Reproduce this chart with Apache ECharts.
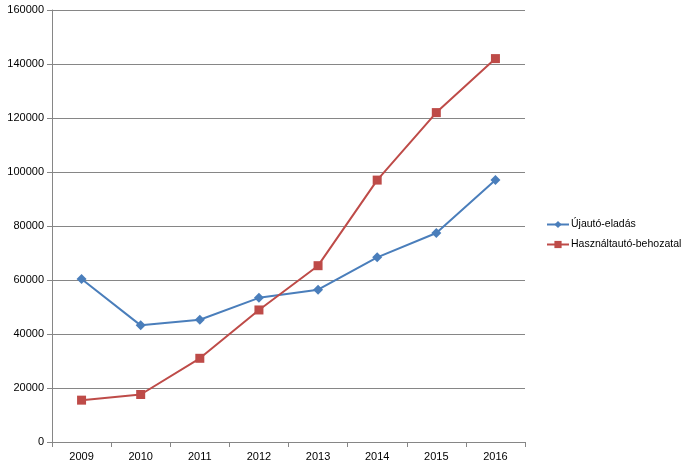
<!DOCTYPE html>
<html><head><meta charset="utf-8">
<script src="https://cdn.jsdelivr.net/npm/echarts@6/dist/echarts.min.js"></script>
<style>html,body{margin:0;padding:0;background:#fff}#c{width:696px;height:464px}</style>
</head><body><div id="c"></div>
<script>
const categories = ['2009','2010','2011','2012','2013','2014','2015','2016'];
const newCarSales = [60400, 43200, 45300, 53400, 56400, 68400, 77400, 97000];
const usedCarImports = [15500, 17600, 31000, 48900, 65300, 97000, 122000, 142000];
const seriesNames = ['Újautó-eladás', 'Használtautó-behozatal'];

const chart = echarts.init(document.getElementById('c'));
const font = 'Liberation Sans, Arial, sans-serif';
chart.setOption({
  animation: false,
  grid: {left: 52, right: 171, top: 10, bottom: 22, containLabel: false},
  legend: {
    orient: 'vertical', left: 541, top: 214, itemGap: 9, itemWidth: 22, itemHeight: 9,
    textStyle: {fontFamily: font, fontSize: 10.5, color: '#000', padding: [0,0,0,-3]},
    data: seriesNames
  },
  xAxis: {
    type: 'category', data: categories, boundaryGap: true,
    axisLine: {lineStyle: {color: '#868686', width: 1}},
    axisTick: {show: true, inside: false, length: 5, lineStyle: {color: '#868686'}},
    axisLabel: {fontFamily: font, fontSize: 11, color: '#000', margin: 9}
  },
  yAxis: {
    type: 'value', min: 0, max: 160000, interval: 20000,
    axisLine: {show: true, lineStyle: {color: '#868686', width: 1}},
    axisTick: {show: true, inside: false, length: 5, lineStyle: {color: '#868686'}},
    axisLabel: {fontFamily: font, fontSize: 11, color: '#000', margin: 8, formatter: v => String(v)},
    splitLine: {lineStyle: {color: '#868686', width: 1}}
  },
  series: [
    {name: seriesNames[0], type: 'line', data: newCarSales, symbol: 'diamond', symbolSize: 10,
     lineStyle: {color: '#4a7ebb', width: 2}, itemStyle: {color: '#4a7ebb'}},
    {name: seriesNames[1], type: 'line', data: usedCarImports, symbol: 'rect', symbolSize: 9,
     lineStyle: {color: '#be4b48', width: 2}, itemStyle: {color: '#be4b48'}}
  ]
});
</script></body></html>
